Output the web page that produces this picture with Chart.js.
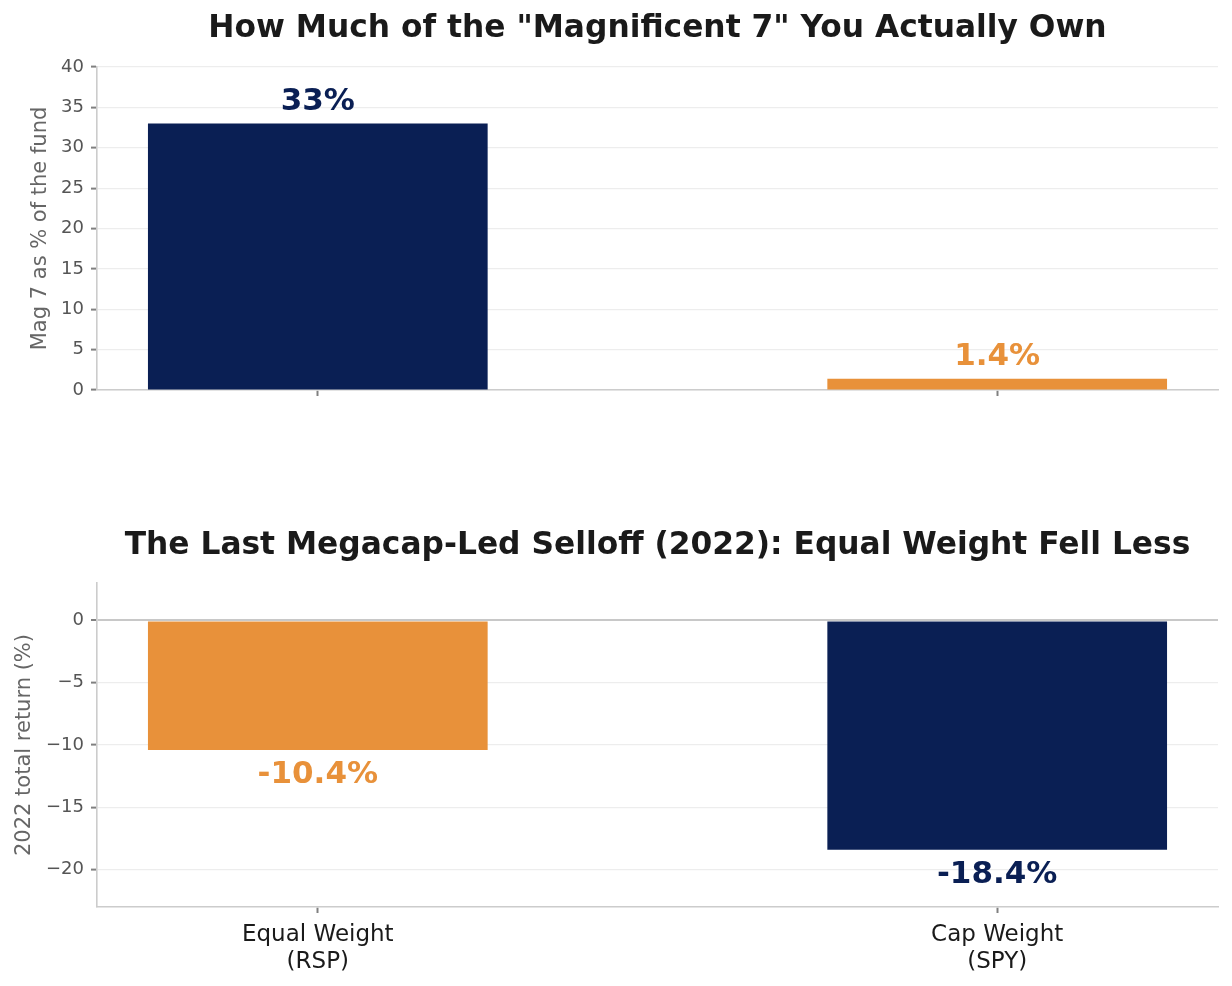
<!DOCTYPE html>
<html>
<head>
<meta charset="utf-8">
<script src="https://cdn.jsdelivr.net/npm/chart.js@4.4.1/dist/chart.umd.min.js"></script>
<style>
  html, body { margin:0; padding:0; background:#fff; }
  .box { position:relative; width:1232px; height:493px; }
</style>
</head>
<body>
<div class="box"><canvas id="chartOwn"></canvas></div>
<div class="box"><canvas id="chartSell"></canvas></div>
<script>
/* Mag 7 exposure vs. 2022 selloff */
const categories = [['Equal Weight', '(RSP)'], ['Cap Weight', '(SPY)']];
const mag7Share = [33, 1.4];
const mag7Colors = ['#0a1f54', '#e8913a'];
const ret2022 = [-10.4, -18.4];
const retColors = ['#e8913a', '#0a1f54'];
const mag7Ticks = [0, 5, 10, 15, 20, 25, 30, 35, 40];
const retTicks = [-20, -15, -10, -5, 0];

const FONT = '"DejaVu Sans", Verdana, sans-serif';
const P = {grid:'#ededed', axis:'#cccccc', zero:'#c8c8c8', tick:'#808080', tickTxt:'#555555', title:'#1a1a1a', ylab:'#666666'};
Chart.defaults.font.family = FONT;
Chart.defaults.animation = false;

const minus = v => String(v).replace('-', '\u2212');

// titulo centrado sobre el area del grafico + etiquetas de valores
const extras = {
  id:'extras',
  afterDraw(chart, args, opts){
    const {ctx, chartArea:a} = chart;
    ctx.save();
    ctx.fillStyle = P.title;
    ctx.font = 'bold 31.3px ' + FONT;
    ctx.textAlign = 'center'; ctx.textBaseline = 'middle';
    ctx.fillText(opts.title, (a.left + a.right) / 2, opts.titleY);
    const meta = chart.getDatasetMeta(0);
    const ds = chart.data.datasets[0];
    ctx.font = 'bold 31px ' + FONT;
    meta.data.forEach((bar, i) => {
      const v = ds.data[i].y;
      ctx.fillStyle = ds.backgroundColor[i];
      const txt = (v < 0 ? '-' : '') + Math.abs(v) + '%';
      const y = v >= 0 ? bar.y - 22 : bar.y + 25;
      ctx.fillText(txt, bar.x, y);
    });
    ctx.restore();
  }
};

function makeChart(id, vals, colors, yTicks, yMin, yMax, yTitle, yTitlePad, padTop, xHeight, showX, titleText, titleY){
  return new Chart(document.getElementById(id), {
    type:'bar',
    data:{datasets:[{data: vals.map((v, i) => ({x:i, y:v})), backgroundColor:colors, borderWidth:0,
      categoryPercentage:1, barPercentage:0.5}]},
    options:{
      responsive:true, maintainAspectRatio:false,
      layout:{padding:{top:padTop, right:14, left:0, bottom:0}},
      plugins:{legend:{display:false}, tooltip:{enabled:false}, extras:{title:titleText, titleY:titleY}},
      scales:{
        x:{type:'linear', min:-0.325, max:1.325, offset:false,
          afterBuildTicks: s => { s.ticks = categories.map((c, i) => ({value:i})); },
          afterFit: s => { s.height = xHeight; },
          grid:{display:true, offset:false, drawOnChartArea:false, drawTicks:true, tickLength:6, tickColor:P.tick, tickWidth:2},
          border:{display:true, color:P.axis, width:1.6},
          ticks:{display:showX, padding:8, color:P.title, font:{size:23}, maxRotation:0, autoSkip:false,
            callback: v => categories[v]}},
        y:{min:yMin, max:yMax,
          afterBuildTicks: s => { s.ticks = yTicks.map(v => ({value:v})); },
          afterFit: s => { s.width = 97; },
          grid:{color: c => (c.tick && c.tick.value === 0 && yMin < 0) ? P.zero : P.grid,
                lineWidth: c => (c.tick && c.tick.value === 0 && yMin < 0) ? 2 : 1.2,
                drawTicks:true, tickLength:6, tickColor:P.tick, tickWidth:2},
          border:{display:true, color:P.axis, width:1.6},
          ticks:{padding:7, color:P.tickTxt, font:{size:18}, callback: v => minus(v)},
          title:{display:true, text:yTitle, color:P.ylab, font:{size:21}, padding:{top:yTitlePad, bottom:0}}}
      }
    },
    plugins:[extras]
  });
}

makeChart('chartOwn', mag7Share, mag7Colors, mag7Ticks, 0, 40, 'Mag 7 as % of the fund', 28, 67, 103, false,
  'How Much of the "Magnificent 7" You Actually Own', 29);
makeChart('chartSell', ret2022, retColors, retTicks, -23, 3, '2022 total return (%)', 12, 90, 79, true,
  'The Last Megacap-Led Selloff (2022): Equal Weight Fell Less', 53);
</script>
</body>
</html>
